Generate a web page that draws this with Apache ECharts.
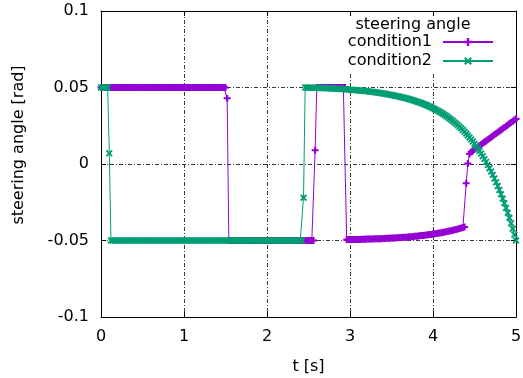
<!DOCTYPE html>
<html>
<head>
<meta charset="utf-8">
<script src="https://cdn.jsdelivr.net/npm/echarts@6/dist/echarts.min.js"></script>
<style>html,body{margin:0;padding:0;background:#fff}#c{width:523px;height:378px}</style>
</head>
<body>
<div id="c"></div>
<script>
// sample times [s]
const time = [
0,0.02,0.04,0.06,0.08,0.1,0.12,0.14,0.16,0.18,
0.2,0.22,0.24,0.26,0.28,0.3,0.32,0.34,0.36,0.38,
0.4,0.42,0.44,0.46,0.48,0.5,0.52,0.54,0.56,0.58,
0.6,0.62,0.64,0.66,0.68,0.7,0.72,0.74,0.76,0.78,
0.8,0.82,0.84,0.86,0.88,0.9,0.92,0.94,0.96,0.98,
1,1.02,1.04,1.06,1.08,1.1,1.12,1.14,1.16,1.18,
1.2,1.22,1.24,1.26,1.28,1.3,1.32,1.34,1.36,1.38,
1.4,1.42,1.44,1.46,1.48,1.5,1.52,1.54,1.56,1.58,
1.6,1.62,1.64,1.66,1.68,1.7,1.72,1.74,1.76,1.78,
1.8,1.82,1.84,1.86,1.88,1.9,1.92,1.94,1.96,1.98,
2,2.02,2.04,2.06,2.08,2.1,2.12,2.14,2.16,2.18,
2.2,2.22,2.24,2.26,2.28,2.3,2.32,2.34,2.36,2.38,
2.4,2.42,2.44,2.46,2.48,2.5,2.52,2.54,2.56,2.58,
2.6,2.62,2.64,2.66,2.68,2.7,2.72,2.74,2.76,2.78,
2.8,2.82,2.84,2.86,2.88,2.9,2.92,2.94,2.96,2.98,
3,3.02,3.04,3.06,3.08,3.1,3.12,3.14,3.16,3.18,
3.2,3.22,3.24,3.26,3.28,3.3,3.32,3.34,3.36,3.38,
3.4,3.42,3.44,3.46,3.48,3.5,3.52,3.54,3.56,3.58,
3.6,3.62,3.64,3.66,3.68,3.7,3.72,3.74,3.76,3.78,
3.8,3.82,3.84,3.86,3.88,3.9,3.92,3.94,3.96,3.98,
4,4.02,4.04,4.06,4.08,4.1,4.12,4.14,4.16,4.18,
4.2,4.22,4.24,4.26,4.28,4.3,4.32,4.34,4.36,4.38,
4.4,4.42,4.44,4.46,4.48,4.5,4.52,4.54,4.56,4.58,
4.6,4.62,4.64,4.66,4.68,4.7,4.72,4.74,4.76,4.78,
4.8,4.82,4.84,4.86,4.88,4.9,4.92,4.94,4.96,4.98,
5
];

// condition1 steering angle [rad]
const condition1 = [
0.05,0.05,0.05,0.05,0.05,0.05,0.05,0.05,0.05,0.05,
0.05,0.05,0.05,0.05,0.05,0.05,0.05,0.05,0.05,0.05,
0.05,0.05,0.05,0.05,0.05,0.05,0.05,0.05,0.05,0.05,
0.05,0.05,0.05,0.05,0.05,0.05,0.05,0.05,0.05,0.05,
0.05,0.05,0.05,0.05,0.05,0.05,0.05,0.05,0.05,0.05,
0.05,0.05,0.05,0.05,0.05,0.05,0.05,0.05,0.05,0.05,
0.05,0.05,0.05,0.05,0.05,0.05,0.05,0.05,0.05,0.05,
0.05,0.05,0.05,0.05,0.05,0.05,0.043,-0.05,-0.05,-0.05,
-0.05,-0.05,-0.05,-0.05,-0.05,-0.05,-0.05,-0.05,-0.05,-0.05,
-0.05,-0.05,-0.05,-0.05,-0.05,-0.05,-0.05,-0.05,-0.05,-0.05,
-0.05,-0.05,-0.05,-0.05,-0.05,-0.05,-0.05,-0.05,-0.05,-0.05,
-0.05,-0.05,-0.05,-0.05,-0.05,-0.05,-0.05,-0.05,-0.05,-0.05,
-0.05,-0.05,-0.05,-0.05,-0.05,-0.05,-0.05,-0.05,-0.05,0.009,
0.05,0.05,0.05,0.05,0.05,0.05,0.05,0.05,0.05,0.05,
0.05,0.05,0.05,0.05,0.05,0.05,0.05,0.05,-0.0495,-0.0494,
-0.0494,-0.0494,-0.0494,-0.0493,-0.0493,-0.0493,-0.0493,-0.0492,-0.0492,-0.0492,
-0.0491,-0.0491,-0.0491,-0.0490,-0.0490,-0.0489,-0.0489,-0.0488,-0.0488,-0.0488,
-0.0487,-0.0487,-0.0486,-0.0485,-0.0485,-0.0484,-0.0484,-0.0483,-0.0482,-0.0482,
-0.0481,-0.0480,-0.0479,-0.0478,-0.0478,-0.0477,-0.0476,-0.0475,-0.0474,-0.0473,
-0.0472,-0.0471,-0.0469,-0.0468,-0.0467,-0.0466,-0.0464,-0.0463,-0.0461,-0.0460,
-0.0458,-0.0456,-0.0455,-0.0453,-0.0451,-0.0449,-0.0447,-0.0445,-0.0443,-0.0440,
-0.0438,-0.0436,-0.0433,-0.0430,-0.0428,-0.0425,-0.0422,-0.0419,-0.0415,-0.0412,
-0.0126,0.0003,0.0065,0.0078,0.0087,0.0095,0.0103,0.0111,0.0119,0.0127,
0.0135,0.0143,0.0151,0.0159,0.0167,0.0175,0.0183,0.0191,0.0199,0.0207,
0.0215,0.0223,0.0231,0.0239,0.0247,0.0255,0.0263,0.0271,0.0279,0.0287,
0.0295
];

// condition2 steering angle [rad]
const condition2 = [
0.05,0.05,0.05,0.05,0.05,0.007,-0.05,-0.05,-0.05,-0.05,
-0.05,-0.05,-0.05,-0.05,-0.05,-0.05,-0.05,-0.05,-0.05,-0.05,
-0.05,-0.05,-0.05,-0.05,-0.05,-0.05,-0.05,-0.05,-0.05,-0.05,
-0.05,-0.05,-0.05,-0.05,-0.05,-0.05,-0.05,-0.05,-0.05,-0.05,
-0.05,-0.05,-0.05,-0.05,-0.05,-0.05,-0.05,-0.05,-0.05,-0.05,
-0.05,-0.05,-0.05,-0.05,-0.05,-0.05,-0.05,-0.05,-0.05,-0.05,
-0.05,-0.05,-0.05,-0.05,-0.05,-0.05,-0.05,-0.05,-0.05,-0.05,
-0.05,-0.05,-0.05,-0.05,-0.05,-0.05,-0.05,-0.05,-0.05,-0.05,
-0.05,-0.05,-0.05,-0.05,-0.05,-0.05,-0.05,-0.05,-0.05,-0.05,
-0.05,-0.05,-0.05,-0.05,-0.05,-0.05,-0.05,-0.05,-0.05,-0.05,
-0.05,-0.05,-0.05,-0.05,-0.05,-0.05,-0.05,-0.05,-0.05,-0.05,
-0.05,-0.05,-0.05,-0.05,-0.05,-0.05,-0.05,-0.05,-0.05,-0.05,
-0.05,-0.05,-0.022,0.05,0.05,0.0499,0.0499,0.0499,0.0499,0.0498,
0.0498,0.0497,0.0497,0.0497,0.0496,0.0496,0.0495,0.0495,0.0494,0.0494,
0.0493,0.0493,0.0492,0.0492,0.0491,0.0490,0.0490,0.0489,0.0488,0.0487,
0.0486,0.0485,0.0484,0.0483,0.0482,0.0481,0.0480,0.0479,0.0478,0.0477,
0.0476,0.0475,0.0473,0.0472,0.0471,0.0469,0.0468,0.0466,0.0464,0.0463,
0.0461,0.0459,0.0457,0.0455,0.0453,0.0451,0.0449,0.0446,0.0444,0.0442,
0.0439,0.0437,0.0434,0.0431,0.0429,0.0426,0.0423,0.0420,0.0416,0.0413,
0.0409,0.0406,0.0402,0.0398,0.0394,0.0389,0.0385,0.0380,0.0375,0.0370,
0.0365,0.0359,0.0353,0.0347,0.0341,0.0335,0.0328,0.0321,0.0314,0.0306,
0.0298,0.0290,0.0281,0.0272,0.0263,0.0253,0.0243,0.0233,0.0222,0.0211,
0.0199,0.0187,0.0174,0.0160,0.0147,0.0132,0.0117,0.0101,0.0085,0.0068,
0.0051,0.0032,0.0013,-0.0007,-0.0027,-0.0049,-0.0071,-0.0095,-0.0119,-0.0144,
-0.0170,-0.0198,-0.0226,-0.0256,-0.0287,-0.0319,-0.0352,-0.0387,-0.0423,-0.0461,
-0.0500
];

const seriesNames = ['condition1', 'condition2'];
const legendTitle = 'steering angle';
const xName = 't [s]';
const yName = 'steering angle [rad]';
const xRange = [0, 5, 1];        // min, max, tick step
const yRange = [-0.1, 0.1, 0.05];

const FONT = 'DejaVu Sans';
const PURPLE = '#9400d3';
const GREEN = '#009e73';
const PLUS = 'path://M3.5,0h3v3.5h3.5v3h-3.5v3.5h-3v-3.5h-3.5v-3h3.5z';
const CROSS = 'path://M0,1.9L1.9,0L5,3.1L8.1,0L10,1.9L6.9,5L10,8.1L8.1,10L5,6.9L1.9,10L0,8.1L3.1,5Z';

const gridLine = { show: true, lineStyle: { color: '#3a3a3a', width: 1, type: [4, 2, 1, 2] } };
const frame = { show: true, onZero: false, lineStyle: { color: '#000', width: 1 } };
const tick = { show: true, inside: true, length: 5, lineStyle: { color: '#000', width: 1 } };

const chart = echarts.init(document.getElementById('c'), null, { renderer: 'canvas' });
chart.setOption({
  animation: false,
  backgroundColor: '#fff',
  grid: { left: 101, top: 11, right: 7, bottom: 61, containLabel: false, outerBoundsMode: 'none' },
  xAxis: [
    {
      type: 'value', min: xRange[0], max: xRange[1], interval: xRange[2], position: 'bottom',
      axisLine: frame, axisTick: tick, splitLine: gridLine,
      axisLabel: { color: '#000', fontSize: 16, fontFamily: FONT, margin: 12 },
      name: xName, nameLocation: 'middle', nameGap: 42,
      nameTextStyle: { color: '#000', fontSize: 16, fontFamily: FONT }
    },
    {
      type: 'value', min: xRange[0], max: xRange[1], interval: xRange[2], position: 'top',
      axisLine: frame, axisTick: tick, splitLine: { show: false }, axisLabel: { show: false }
    }
  ],
  yAxis: [
    {
      type: 'value', min: yRange[0], max: yRange[1], interval: yRange[2], position: 'left',
      axisLine: frame, axisTick: tick, splitLine: gridLine,
      axisLabel: { color: '#000', fontSize: 16, fontFamily: FONT, margin: 12 }
    },
    {
      type: 'value', min: yRange[0], max: yRange[1], interval: yRange[2], position: 'right',
      axisLine: frame, axisTick: tick, splitLine: { show: false }, axisLabel: { show: false }
    }
  ],
  legend: {
    data: seriesNames,
    orient: 'vertical', align: 'right',
    right: 29, top: 34,
    itemWidth: 50, itemHeight: 10, itemGap: 3, padding: 0,
    textStyle: { color: '#000', fontSize: 16, fontFamily: FONT, lineHeight: 16, padding: [0, 6, 0, 0] }
  },
  graphic: [
    { type: 'rect', z: 1, shape: { x: 340, y: 17, width: 175, height: 55 }, style: { fill: '#fff' } },
    { type: 'text', z: 2, x: 413, y: 25,
      style: { text: legendTitle, fill: '#000', font: '16px "DejaVu Sans"', align: 'center', verticalAlign: 'middle' } },
    { type: 'text', z: 2, x: 19, y: 145, rotation: Math.PI / 2,
      style: { text: yName, fill: '#000', font: '16px "DejaVu Sans"', align: 'center', verticalAlign: 'middle' } }
  ],
  series: [
    {
      name: seriesNames[0], type: 'line', xAxisIndex: 0, yAxisIndex: 0,
      data: time.map((t, i) => [t, condition1[i]]),
      symbol: PLUS, symbolSize: 7, showSymbol: true,
      lineStyle: { color: PURPLE, width: 1 }, itemStyle: { color: PURPLE },
      z: 3
    },
    {
      name: seriesNames[1], type: 'line', xAxisIndex: 0, yAxisIndex: 0,
      data: time.map((t, i) => [t, condition2[i]]),
      symbol: CROSS, symbolSize: 7, showSymbol: true,
      lineStyle: { color: GREEN, width: 1 }, itemStyle: { color: GREEN },
      z: 4
    }
  ]
});
</script>
</body>
</html>
